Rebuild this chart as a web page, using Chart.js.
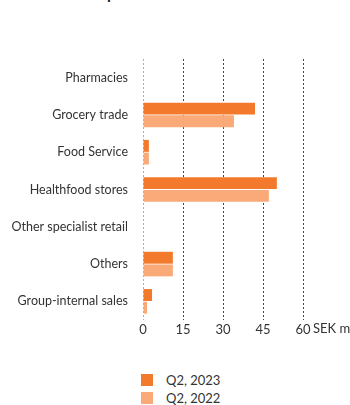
<!DOCTYPE html>
<html>
<head>
<meta charset="utf-8">
<script src="https://cdn.jsdelivr.net/npm/chart.js@4"></script>
<style>
  body { margin: 0; background: #fff; width: 350px; height: 405px; overflow: hidden; position: relative; font-family: Lato, sans-serif; }
  #titel { position: absolute; left: 38px; top: -17px; font: bold 16px Lato, sans-serif; color: #222; white-space: nowrap; }
  #wrap { position: absolute; left: 0; top: 0; width: 350px; height: 345px; }
  #legend { position: absolute; left: 141px; top: 371px; font-size: 13px; color: #333; }
  .item { display: flex; align-items: center; height: 18px; }
  .box { width: 12px; height: 12px; margin-right: 13px; }
</style>
</head>
<body>
<div id="titel">Net sales per sales channel</div>
<div id="wrap"><canvas id="grafico"></canvas></div>
<div id="legend"></div>
<script>
const FONT = "Lato, sans-serif";

const kanaler = [
  "Pharmacies",
  "Grocery trade",
  "Food Service",
  "Healthfood stores",
  "Other specialist retail",
  "Others",
  "Group-internal sales",
];
const q2_2023 = [0, 42, 2.2, 50.2, 0, 11.2, 3.4];
const q2_2022 = [0, 34.1, 2.2, 47.2, 0, 11.2, 1.5];
const ticksX = [0, 15, 30, 45, 60];
const serier = ["Q2, 2023", "Q2, 2022"];
const farger = ["#f37a2c", "#f9aa78"];

// "SEK m" efter sista ticken
const enhetPlugin = {
  id: "enhet",
  afterDraw(chart) {
    const ctx = chart.ctx;
    const x = chart.scales.x;
    ctx.save();
    ctx.font = "13px " + FONT;
    ctx.fillStyle = "#333";
    ctx.textAlign = "left";
    ctx.textBaseline = "middle";
    ctx.fillText("SEK m", x.getPixelForValue(60) + 10, chart.chartArea.bottom + 9);
    ctx.restore();
  },
};

new Chart(document.getElementById("grafico"), {
  type: "bar",
  data: {
    labels: kanaler,
    datasets: serier.map((s, i) => ({
      label: s,
      data: i === 0 ? q2_2023 : q2_2022,
      backgroundColor: farger[i],
      categoryPercentage: 0.68,
      barPercentage: 0.94,
    })),
  },
  options: {
    indexAxis: "y",
    responsive: true,
    maintainAspectRatio: false,
    animation: false,
    layout: { padding: { top: 59, right: 47, left: 0, bottom: 0 } },
    plugins: { legend: { display: false }, tooltip: { enabled: false } },
    scales: {
      x: {
        min: 0,
        max: 60,
        afterBuildTicks: (s) => { s.ticks = ticksX.map((v) => ({ value: v })); },
        afterFit: (s) => { s.height = 25; },
        border: { display: false, dash: [2, 2] },
        grid: {
          color: (c) => (c.index === 0 ? "#b9a9a0" : "#444"),
          drawTicks: false,
          lineWidth: 1,
        },
        ticks: { padding: 2, color: "#333", font: { family: FONT, size: 13 } },
      },
      y: {
        afterFit: (s) => { s.width = 143; },
        border: { display: false },
        grid: { display: false },
        ticks: { padding: 7, color: "#333", font: { family: FONT, size: 12.5 } },
      },
    },
  },
  plugins: [enhetPlugin],
});

const legend = document.getElementById("legend");
serier.forEach((s, i) => {
  const rad = document.createElement("div");
  rad.className = "item";
  rad.innerHTML = `<span class="box" style="background:${farger[i]}"></span>${s}`;
  legend.appendChild(rad);
});
</script>
</body>
</html>
